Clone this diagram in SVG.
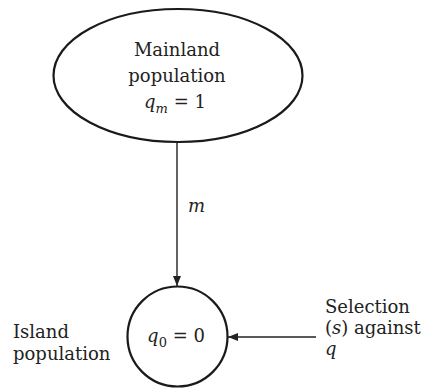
<svg xmlns="http://www.w3.org/2000/svg" width="421" height="388" viewBox="0 0 421 388">
<style>
.node{fill:#fff;stroke:#1a1a1a;stroke-width:2.2}
text{font-family:"DejaVu Serif","Liberation Serif","Times New Roman",serif;font-size:18px;fill:#222}
.i{font-style:italic}
.sub{font-size:13px}
.edge{stroke:#222;stroke-width:1.4;fill:none}
</style>
<defs>
<marker id="ah" viewBox="0 0 10 8" refX="10" refY="4" markerWidth="10" markerHeight="8" markerUnits="userSpaceOnUse" orient="auto">
<path d="M0,0 L10,4 L0,8 Z" fill="#222"/>
</marker>
</defs>
<rect width="421" height="388" fill="#fff"/>
<g id="connectors">
<line class="edge" x1="177" y1="142" x2="177" y2="286" marker-end="url(#ah)"/>
<line class="edge" x1="316" y1="337" x2="228" y2="337" marker-end="url(#ah)"/>
<text class="i" x="188" y="212">m</text>
</g>
<g id="mainland">
<ellipse class="node" cx="178" cy="75.5" rx="124.5" ry="66.5"/>
<text x="177" y="56" text-anchor="middle">Mainland</text>
<text x="177" y="82" text-anchor="middle">population</text>
<text x="175" y="108" text-anchor="middle"><tspan class="i">q</tspan><tspan class="i sub" dy="5">m</tspan><tspan dy="-5"> = 1</tspan></text>
</g>
<g id="island">
<circle class="node" cx="177.5" cy="336.5" r="50"/>
<text x="176" y="342" text-anchor="middle"><tspan class="i">q</tspan><tspan class="sub" dy="5">0</tspan><tspan dy="-5"> = 0</tspan></text>
</g>
<g id="island-label">
<text x="13" y="338">Island</text>
<text x="13" y="360">population</text>
</g>
<g id="selection">
<text x="325" y="313">Selection</text>
<text x="325" y="334">(<tspan class="i">s</tspan>) against</text>
<text class="i" x="325" y="355">q</text>
</g>
</svg>
